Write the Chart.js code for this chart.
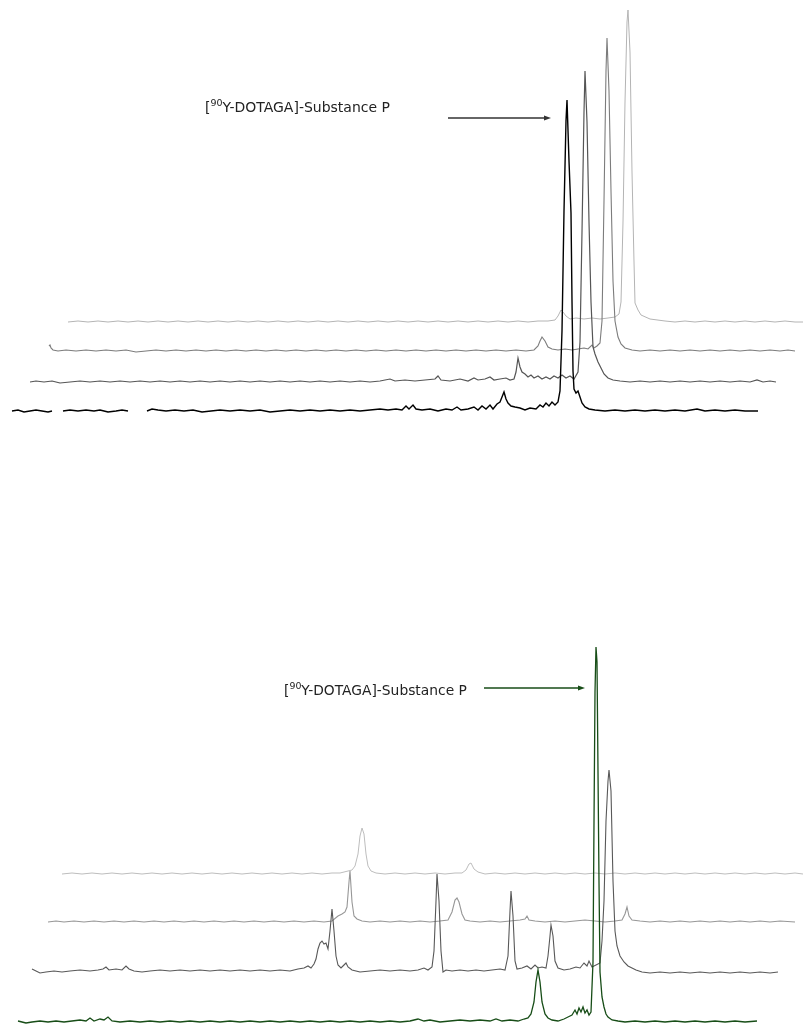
<!DOCTYPE html>
<html>
<head>
<meta charset="utf-8">
<script src="https://cdn.jsdelivr.net/npm/chart.js@4/dist/chart.umd.min.js"></script>
<style>
  html, body { margin: 0; padding: 0; background: #ffffff; }
  #wrap { position: relative; width: 803px; height: 1025px; overflow: hidden; }
  .panel { position: absolute; left: 0; width: 803px; }
  #topPanel { top: 0; height: 512px; }
  #bottomPanel { top: 512px; height: 513px; }
</style>
</head>
<body>
<div id="wrap">
  <div class="panel" id="topPanel"><canvas id="topChart" width="803" height="512"></canvas></div>
  <div class="panel" id="bottomPanel"><canvas id="bottomChart" width="803" height="513"></canvas></div>
</div>
<script>
// ---------------- DATA (retention axis in arbitrary units, intensity above each trace's baseline) ----------------
const peakLabel = "[⁹⁰Y-DOTAGA]-Substance P";

// Waterfall baselines (intensity offsets) for the stacked runs
const topOffsets = [101, 130, 161, 190];      // front (black) -> back (lightest)
const bottomOffsets = [3, 54, 103, 151];      // front (green) -> back (lightest)

// ---- Top panel ----
const topRun1 = [[12,0],[18,1],[24,-1],[30,0],[36,1],[42,0],[48,-1],[52,0],[56,null],
  [63,0],[70,1],[78,0],[86,1],[94,0],[100,1],[108,-1],[116,0],[122,1],[128,0],[138,null],
  [147,0],[152,2],[158,1],[166,0],[175,1],[184,0],[193,1],[202,-1],[211,0],[220,1],[230,0],[240,1],[250,0],[260,1],[270,-1],[280,0],[290,1],[300,0],[310,1],[320,0],[330,1],[340,0],[350,1],[360,0],[370,1],[380,2],[388,1],[396,2],[402,1],[406,5],[409,2],[413,6],[416,2],[422,1],[430,2],[438,0],[446,2],[452,1],[457,4],[461,1],[468,2],[474,4],[478,1],[482,5],[486,2],[490,6],[493,2],[497,7],[500,9],[502,14],[504,19],[506,12],[508,8],[511,5],[515,4],[520,3],[525,1],[530,3],[536,2],[540,6],[543,4],[546,8],[549,5],[552,9],[555,6],[558,9],[560,20],[562,80],[564,200],[566,290],[567,311],[569,250],[571,198],[572,110],[573,40],[574,22],[576,18],[578,20],[580,14],[582,8],[585,4],[589,2],[595,1],[605,0],[615,1],[625,0],[635,1],[645,0],[655,1],[665,0],[675,1],[685,0],[697,2],[705,0],[715,1],[725,0],[735,1],[745,0],[758,0]];

const topRun2 = [[30,0],[36,1],[44,0],[52,1],[60,-1],[70,0],[80,1],[90,0],[100,1],[110,0],[120,1],[130,0],[140,1],[150,0],[160,1],[170,0],[180,1],[190,0],[200,1],[210,0],[220,1],[230,0],[240,1],[250,0],[260,1],[270,0],[280,1],[290,0],[300,1],[310,0],[320,1],[330,0],[340,1],[350,0],[360,1],[370,0],[380,1],[390,3],[395,1],[405,2],[415,1],[425,2],[435,3],[438,6],[441,2],[450,1],[460,3],[468,1],[474,4],[478,2],[485,3],[490,5],[494,2],[500,3],[506,4],[510,2],[514,3],[516,10],[518,24],[520,15],[522,10],[525,8],[528,5],[531,7],[534,4],[538,6],[542,3],[546,5],[550,3],[554,6],[558,4],[562,7],[566,4],[570,6],[574,3],[578,10],[580,40],[582,150],[584,270],[585,311],[587,260],[589,160],[591,80],[593,35],[595,28],[598,20],[601,14],[604,8],[608,4],[613,2],[620,1],[630,0],[640,1],[650,0],[660,1],[670,0],[680,1],[690,0],[700,1],[710,0],[720,1],[730,0],[740,1],[750,0],[757,2],[763,0],[770,1],[776,0]];

const topRun3 = [[49,5],[50,6],[51,3],[53,1],[58,0],[66,1],[76,0],[86,1],[96,0],[106,1],[116,0],[126,1],[136,-1],[146,0],[156,1],[166,0],[176,1],[186,0],[196,1],[206,0],[216,1],[226,0],[236,1],[246,0],[256,1],[266,0],[276,1],[286,0],[296,1],[306,0],[316,1],[326,0],[336,1],[346,0],[356,1],[366,0],[376,1],[386,0],[396,1],[406,0],[416,1],[426,0],[436,1],[446,0],[456,1],[466,0],[476,1],[486,0],[496,1],[506,0],[516,1],[526,0],[534,1],[538,5],[540,10],[542,14],[545,10],[548,4],[552,2],[558,1],[565,2],[572,1],[578,2],[584,3],[588,2],[592,6],[594,3],[597,5],[600,8],[602,30],[604,150],[606,280],[607,313],[609,260],[611,160],[613,70],[615,30],[618,14],[621,7],[625,3],[632,1],[640,0],[650,1],[660,0],[670,1],[680,0],[690,1],[700,0],[710,1],[720,0],[730,1],[740,0],[750,1],[760,0],[770,1],[780,0],[788,1],[795,0]];

const topRun4 = [[68,0],[78,1],[88,0],[98,1],[108,0],[118,1],[128,0],[138,1],[148,0],[158,1],[168,0],[178,1],[188,0],[198,1],[208,0],[218,1],[228,0],[238,1],[248,0],[258,1],[268,0],[278,1],[288,0],[298,1],[308,0],[318,1],[328,0],[338,1],[348,0],[358,1],[368,0],[378,1],[388,0],[398,1],[408,0],[418,1],[428,0],[438,1],[448,0],[458,1],[468,0],[478,1],[488,0],[498,1],[508,0],[518,1],[528,0],[538,1],[548,1],[555,2],[558,6],[561,12],[563,10],[566,6],[570,3],[576,4],[584,3],[592,4],[600,3],[608,4],[615,5],[619,8],[621,20],[623,100],[625,220],[627,300],[628,312],[630,270],[632,150],[634,60],[635,19],[638,12],[641,7],[650,3],[665,1],[675,0],[685,1],[695,0],[705,1],[715,0],[725,1],[735,0],[745,1],[755,0],[765,1],[775,0],[785,1],[795,0],[803,0]];

// ---- Bottom panel ----
const bottomRun1 = [[18,1],[22,0],[26,-1],[32,0],[40,1],[48,0],[56,1],[64,0],[72,1],[80,2],[86,1],[90,4],[94,1],[100,3],[104,2],[108,5],[112,1],[120,0],[130,1],[140,0],[150,1],[160,0],[170,1],[180,0],[190,1],[200,0],[210,1],[220,0],[230,1],[240,0],[250,1],[260,0],[270,1],[280,0],[290,1],[300,0],[310,1],[320,0],[330,1],[340,0],[350,1],[360,0],[370,1],[380,0],[390,1],[400,0],[410,1],[418,3],[424,1],[430,2],[440,0],[450,1],[460,2],[470,1],[480,2],[490,1],[496,3],[502,1],[510,2],[518,1],[524,3],[528,4],[531,8],[534,20],[536,40],[538,52],[540,40],[542,20],[545,8],[548,4],[552,2],[558,1],[564,3],[568,5],[572,7],[575,12],[577,8],[579,14],[581,10],[583,15],[585,9],[587,12],[589,7],[591,10],[593,60],[594,200],[595,330],[596,375],[597,360],[598,250],[599,140],[600,50],[602,25],[604,15],[606,8],[608,5],[612,2],[618,1],[625,0],[635,1],[645,0],[655,1],[665,0],[675,1],[685,0],[695,1],[705,0],[715,1],[725,0],[735,1],[745,0],[757,1]];

const bottomRun2 = [[32,2],[36,0],[40,-2],[46,-1],[54,0],[62,-1],[70,0],[80,1],[90,0],[98,1],[103,2],[106,4],[109,1],[116,2],[122,1],[126,5],[129,2],[134,0],[142,-1],[150,0],[160,1],[170,0],[180,1],[190,0],[200,1],[210,0],[220,1],[230,0],[240,1],[250,0],[260,1],[270,0],[280,1],[290,0],[298,2],[304,3],[308,5],[311,3],[314,7],[316,12],[318,22],[320,28],[322,30],[324,27],[326,28],[328,22],[330,40],[332,62],[334,40],[336,15],[338,6],[341,3],[344,6],[346,8],[348,4],[352,1],[360,-1],[370,0],[380,1],[390,0],[400,1],[410,0],[418,1],[424,3],[428,1],[432,4],[434,20],[436,70],[437,97],[439,70],[441,20],[443,-1],[446,1],[452,0],[460,1],[468,0],[476,1],[484,0],[492,1],[500,2],[505,1],[508,15],[510,60],[511,80],[513,55],[515,10],[517,2],[522,3],[527,5],[531,2],[535,6],[538,3],[542,4],[546,3],[548,15],[550,35],[551,46],[553,35],[555,10],[558,3],[564,1],[570,2],[576,4],[580,3],[584,8],[587,5],[589,10],[592,4],[596,6],[600,8],[602,30],[604,70],[606,150],[608,190],[609,201],[611,180],[613,90],[615,40],[617,25],[620,15],[624,9],[628,5],[632,3],[636,1],[642,-1],[650,-2],[660,-1],[670,-2],[680,-1],[690,-2],[700,-1],[710,-2],[720,-1],[730,-2],[740,-1],[750,-2],[760,-1],[770,-2],[778,-1]];

const bottomRun3 = [[48,0],[56,1],[64,0],[74,1],[84,0],[94,1],[104,0],[114,1],[124,0],[134,1],[144,0],[154,1],[164,0],[174,1],[184,0],[194,1],[204,0],[214,1],[224,0],[234,1],[244,0],[254,1],[264,0],[274,1],[284,0],[294,1],[304,0],[314,1],[324,0],[332,1],[338,6],[342,8],[345,10],[347,15],[349,40],[350,51],[352,20],[354,6],[357,3],[362,1],[370,0],[380,1],[390,0],[400,1],[410,0],[420,1],[430,0],[440,1],[448,2],[452,10],[455,22],[457,24],[459,20],[462,8],[465,2],[470,1],[480,0],[490,1],[500,0],[510,1],[520,2],[525,3],[527,6],[529,2],[535,1],[545,0],[555,1],[565,0],[575,1],[585,2],[595,1],[605,0],[615,1],[622,2],[625,8],[627,15],[629,6],[632,2],[640,1],[650,0],[660,1],[670,0],[680,1],[690,0],[700,1],[710,0],[720,1],[730,0],[740,1],[750,0],[760,1],[770,0],[780,1],[795,0]];

const bottomRun4 = [[62,0],[72,1],[82,0],[92,1],[102,0],[112,1],[122,0],[132,1],[142,0],[152,1],[162,0],[172,1],[182,0],[192,1],[202,0],[212,1],[222,0],[232,1],[242,0],[252,1],[262,0],[272,1],[282,0],[292,1],[302,0],[312,1],[322,0],[332,1],[340,1],[348,3],[352,4],[355,8],[358,20],[360,38],[362,46],[364,40],[366,20],[368,8],[371,3],[376,1],[385,0],[395,1],[405,0],[415,1],[425,0],[435,1],[445,0],[455,1],[462,1],[466,4],[469,10],[471,11],[474,5],[478,2],[485,0],[495,1],[505,0],[515,1],[525,0],[535,1],[545,0],[555,1],[565,0],[575,1],[585,0],[595,1],[605,0],[615,1],[625,0],[635,1],[645,0],[655,1],[665,0],[675,1],[685,0],[695,1],[705,0],[715,1],[725,0],[735,1],[745,0],[755,1],[765,0],[775,1],[785,0],[795,1],[803,0]];

// ---------------- STYLES ----------------
const topColors = ["#000000", "#555555", "#7c7c7c", "#b4b4b4"];
const topWidths = [1.4, 1.2, 1.1, 1.0];
const bottomColors = ["#174d17", "#585858", "#979797", "#bdbdbd"];
const bottomWidths = [1.3, 1.1, 1.1, 1.0];

function toPoints(run, offset) {
  return run.map(([x, v]) => ({ x: x, y: v === null ? null : v + offset }));
}

// Annotation plugin: label + arrow placed in data (scale) units
const annotate = {
  id: 'annotate',
  afterDatasetsDraw(chart, args, opts) {
    const { ctx, scales: { x, y } } = chart;
    ctx.save();
    // label
    const tx = x.getPixelForValue(opts.textX);
    const ty = y.getPixelForValue(opts.textY);
    const fam = '"DejaVu Sans", "Liberation Sans", sans-serif';
    const base = 13;
    ctx.font = base + 'px ' + fam;
    const supSize = base * 0.68;
    const parts = [["[", false], ["90", true], ["Y-DOTAGA]-Substance P", false]];
    // measure to fit target width
    let w = 0;
    parts.forEach(([s, sup]) => { ctx.font = (sup ? supSize : base) + 'px ' + fam; w += ctx.measureText(s).width; });
    const targetW = x.getPixelForValue(opts.textX2) - tx;
    const k = targetW / w;
    let cx = tx;
    ctx.fillStyle = opts.textColor;
    ctx.textBaseline = 'alphabetic';
    parts.forEach(([s, sup]) => {
      const fs = (sup ? supSize : base) * k;
      ctx.font = fs + 'px ' + fam;
      ctx.fillText(s, cx, sup ? ty - base * k * 0.42 : ty);
      cx += ctx.measureText(s).width;
    });
    // arrow
    const ax1 = x.getPixelForValue(opts.arrowX1);
    const ax2 = x.getPixelForValue(opts.arrowX2);
    const ay = y.getPixelForValue(opts.arrowY);
    ctx.strokeStyle = opts.arrowColor;
    ctx.fillStyle = opts.arrowColor;
    ctx.lineWidth = 1.3;
    ctx.beginPath();
    ctx.moveTo(ax1, ay);
    ctx.lineTo(ax2 - 5, ay);
    ctx.stroke();
    ctx.beginPath();
    ctx.moveTo(ax2, ay);
    ctx.lineTo(ax2 - 7, ay - 2.6);
    ctx.lineTo(ax2 - 7, ay + 2.6);
    ctx.closePath();
    ctx.fill();
    ctx.restore();
  }
};

function makeChart(canvasId, runs, offsets, colors, widths, yMax, ann) {
  const datasets = runs.map((run, i) => ({
    data: toPoints(run, offsets[i]),
    borderColor: colors[i],
    borderWidth: widths[i],
    pointRadius: 0,
    tension: 0,
    fill: false,
    spanGaps: false
  }));
  return new Chart(document.getElementById(canvasId), {
    type: 'line',
    data: { datasets: datasets },
    options: {
      responsive: false,
      animation: false,
      events: [],
      layout: { padding: 0 },
      scales: {
        x: { type: 'linear', min: 0, max: 803, display: false },
        y: { type: 'linear', min: 0, max: yMax, display: false }
      },
      plugins: { legend: { display: false }, tooltip: { enabled: false }, annotate: ann }
    },
    plugins: [annotate]
  });
}

makeChart('topChart', [topRun1, topRun2, topRun3, topRun4], topOffsets, topColors, topWidths, 512,
  { textX: 205, textX2: 390, textY: 400, textColor: '#222222', arrowX1: 448, arrowX2: 551, arrowY: 394, arrowColor: '#333333' });

makeChart('bottomChart', [bottomRun1, bottomRun2, bottomRun3, bottomRun4], bottomOffsets, bottomColors, bottomWidths, 513,
  { textX: 284, textX2: 467, textY: 330, textColor: '#222222', arrowX1: 484, arrowX2: 585, arrowY: 337, arrowColor: '#174d17' });
</script>
</body>
</html>
